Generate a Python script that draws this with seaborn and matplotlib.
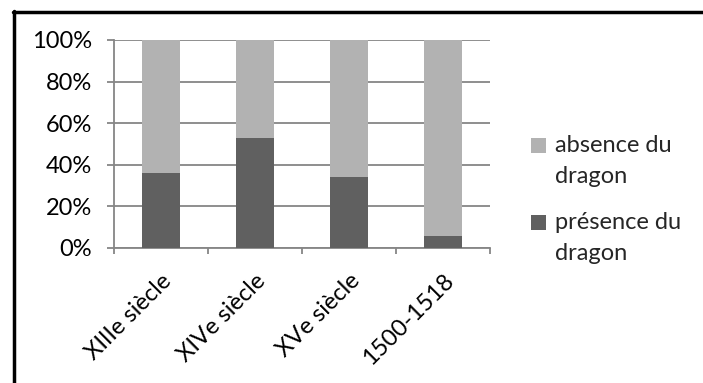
import matplotlib
matplotlib.use("Agg")
import matplotlib.pyplot as plt
import matplotlib.lines as mlines
import matplotlib.patches as mpatches
from matplotlib.legend_handler import HandlerPatch
import seaborn as sns
import pandas as pd
import numpy as np

# Share of images with / without a dragon, per period (percent)
periods = ["XIIIe siècle", "XIVe siècle", "XVe siècle", "1500-1518"]
presence = [36, 53, 34, 6]
absence = [64, 47, 66, 94]
series_labels = ["absence du\ndragon", "présence du\ndragon"]
yticks = [0, 20, 40, 60, 80, 100]

sns.set_theme(style="white")
plt.rcParams["font.family"] = ["Lato", "DejaVu Sans"]

df = pd.DataFrame({"period": periods, "presence": presence, "absence": absence})
df["total"] = df["presence"] + df["absence"]

fig = plt.figure(figsize=(7.03, 3.83), dpi=100)
ax = fig.add_axes([114 / 703, 1 - 248 / 383, 376 / 703, 208 / 383])

light = "#b2b2b2"
dark = "#606060"
grid = "#868686"
fs = 17
sns.barplot(data=df, x="period", y="total", color=light, width=0.4,
            saturation=1, linewidth=0, ax=ax, zorder=3)
sns.barplot(data=df, x="period", y="presence", color=dark, width=0.4,
            saturation=1, linewidth=0, ax=ax, zorder=4)

ax.set_xlim(-0.5, len(periods) - 0.5)
ax.set_ylim(0, 100)
ax.set_yticks(yticks)
ax.set_yticklabels([f"{v}%" for v in yticks], fontsize=fs, color="#000000")
ax.yaxis.grid(True, color=grid, linewidth=1.3, zorder=0)
ax.set_axisbelow(True)
ax.tick_params(axis="y", length=5, width=1.3, color=grid, pad=11, left=True)

ax.set_xticks(range(len(periods)))
ax.set_xticklabels(periods, rotation=45, ha="right", va="top",
                   rotation_mode="anchor", fontsize=fs, color="#000000")
ax.tick_params(axis="x", which="major", length=0, pad=16)
ax.set_xticks(np.arange(-0.5, len(periods), 1.0), minor=True)
ax.tick_params(axis="x", which="minor", length=4, width=1.3, color=grid,
               bottom=True)
ax.set_xlabel("")
ax.set_ylabel("")

for side in ["top", "right"]:
    ax.spines[side].set_visible(False)
for side in ["left", "bottom"]:
    ax.spines[side].set_color(grid)
    ax.spines[side].set_linewidth(1.3)


def square_on_first_line(legend, orig_handle, xdescent, ydescent,
                         width, height, fontsize):
    # lift the swatch so it sits beside the first line of a two-line label
    lift = 0.68 * fontsize
    return mpatches.Rectangle((-xdescent, -ydescent + lift), width, height)


handles = [mpatches.Patch(color=light, linewidth=0),
           mpatches.Patch(color=dark, linewidth=0)]
leg = fig.legend(handles, series_labels, loc="upper left",
                 bbox_to_anchor=(510 / 703, 1 - 114 / 383), frameon=False,
                 fontsize=fs, handlelength=0.62, handleheight=0.62,
                 handletextpad=0.4, labelspacing=1.05,
                 handler_map={mpatches.Patch: HandlerPatch(patch_func=square_on_first_line)})
for t in leg.get_texts():
    t.set_linespacing(1.6)

# Frame lines along the top and left edges of the figure
fig.add_artist(mlines.Line2D([12.5 / 703, 1], [1 - 11.5 / 383, 1 - 11.5 / 383],
                             color="black", linewidth=2.5, transform=fig.transFigure))
fig.add_artist(mlines.Line2D([13.5 / 703, 13.5 / 703], [0, 1 - 10.5 / 383],
                             color="black", linewidth=2.5, transform=fig.transFigure))

fig.savefig("out.png", dpi=100)
